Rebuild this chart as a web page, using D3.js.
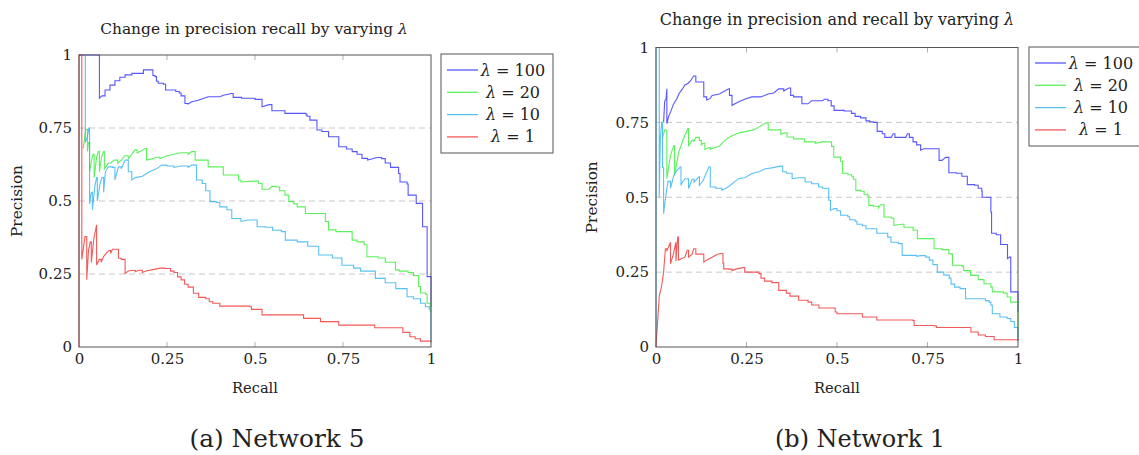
<!DOCTYPE html>
<html>
<head>
<meta charset="utf-8">
<script src="https://cdn.jsdelivr.net/npm/d3@7"></script>
<style>
  body { margin: 0; background: #fff; }
  svg { display: block; }
</style>
</head>
<body>
<svg id="chart" width="1139" height="455"></svg>
<script>
// ===== Precision / recall curves for different lambda values =====

const lambdas = ["100", "20", "10", "1"];
const yTicks = [0, 0.25, 0.5, 0.75, 1];
const xTicks = [0, 0.25, 0.5, 0.75, 1];
const gridTicks = [0.25, 0.5, 0.75];

// Network 5 : [recall, precision]
const net5_l100 = [[0,1],[0.058,1],[0.058,0.852],[0.065,0.86],[0.074,0.86],[0.074,0.88],[0.088,0.88],[0.088,0.897],[0.102,0.897],[0.102,0.912],[0.116,0.912],[0.116,0.924],[0.131,0.924],[0.131,0.932],[0.15,0.932],[0.15,0.937],[0.183,0.937],[0.183,0.949],[0.208,0.949],[0.21,0.93],[0.216,0.926],[0.22,0.91],[0.225,0.903],[0.24,0.9],[0.246,0.88],[0.273,0.88],[0.275,0.875],[0.285,0.87],[0.29,0.86],[0.301,0.834],[0.31,0.832],[0.32,0.84],[0.339,0.845],[0.367,0.857],[0.4,0.857],[0.41,0.862],[0.434,0.868],[0.438,0.855],[0.462,0.852],[0.49,0.852],[0.5,0.848],[0.515,0.848],[0.52,0.823],[0.54,0.83],[0.548,0.825],[0.548,0.809],[0.585,0.809],[0.585,0.8],[0.63,0.8],[0.645,0.795],[0.648,0.79],[0.656,0.777],[0.676,0.775],[0.676,0.743],[0.69,0.738],[0.709,0.72],[0.73,0.72],[0.738,0.686],[0.76,0.678],[0.776,0.669],[0.79,0.66],[0.804,0.646],[0.82,0.64],[0.847,0.649],[0.86,0.645],[0.87,0.63],[0.885,0.615],[0.908,0.594],[0.912,0.565],[0.932,0.558],[0.935,0.52],[0.955,0.52],[0.958,0.492],[0.97,0.492],[0.976,0.412],[0.986,0.412],[0.989,0.241],[0.998,0.241],[1,0.135]];
const net5_l20 = [[0.012,0.68],[0.019,0.745],[0.024,0.67],[0.027,0.7],[0.03,0.6],[0.036,0.64],[0.04,0.66],[0.043,0.58],[0.05,0.65],[0.055,0.67],[0.058,0.6],[0.064,0.65],[0.07,0.67],[0.072,0.61],[0.083,0.629],[0.09,0.63],[0.1,0.64],[0.11,0.63],[0.121,0.64],[0.13,0.655],[0.14,0.645],[0.15,0.66],[0.159,0.675],[0.165,0.665],[0.175,0.67],[0.1875,0.68],[0.192,0.64],[0.21,0.645],[0.22,0.65],[0.23,0.645],[0.25,0.655],[0.27,0.66],[0.29,0.665],[0.31,0.66],[0.32,0.669],[0.33,0.64],[0.35,0.64],[0.367,0.617],[0.39,0.617],[0.41,0.589],[0.44,0.589],[0.453,0.572],[0.46,0.565],[0.491,0.568],[0.51,0.56],[0.52,0.54],[0.54,0.54],[0.548,0.55],[0.56,0.548],[0.57,0.535],[0.585,0.52],[0.596,0.498],[0.61,0.49],[0.62,0.48],[0.643,0.457],[0.69,0.457],[0.7,0.43],[0.709,0.401],[0.73,0.395],[0.765,0.395],[0.776,0.366],[0.79,0.36],[0.81,0.35],[0.818,0.309],[0.85,0.305],[0.87,0.29],[0.899,0.264],[0.91,0.26],[0.935,0.255],[0.95,0.245],[0.965,0.207],[0.97,0.185],[0.985,0.18],[0.989,0.15],[0.998,0.121],[1,0.12]];
const net5_l10 = [[0.018,1],[0.018,0.7],[0.024,0.72],[0.028,0.75],[0.03,0.49],[0.035,0.53],[0.038,0.47],[0.045,0.55],[0.05,0.58],[0.052,0.5],[0.06,0.56],[0.065,0.58],[0.07,0.53],[0.075,0.6],[0.083,0.617],[0.095,0.615],[0.102,0.572],[0.112,0.617],[0.12,0.61],[0.131,0.64],[0.14,0.6],[0.15,0.572],[0.16,0.58],[0.18,0.585],[0.2,0.6],[0.22,0.61],[0.235,0.623],[0.25,0.62],[0.27,0.615],[0.29,0.62],[0.31,0.615],[0.32,0.623],[0.334,0.572],[0.35,0.56],[0.36,0.535],[0.372,0.498],[0.39,0.495],[0.4,0.48],[0.42,0.47],[0.434,0.44],[0.46,0.43],[0.48,0.435],[0.491,0.435],[0.506,0.412],[0.53,0.41],[0.55,0.4],[0.575,0.395],[0.586,0.366],[0.62,0.36],[0.65,0.345],[0.681,0.315],[0.72,0.305],[0.747,0.28],[0.78,0.27],[0.8,0.26],[0.842,0.235],[0.87,0.22],[0.9,0.2],[0.932,0.172],[0.95,0.165],[0.97,0.15],[0.984,0.138],[0.995,0.13],[1,0.02]];
const net5_l1 = [[0,0],[0,1],[0.008,1],[0.008,0.3],[0.017,0.378],[0.022,0.23],[0.027,0.33],[0.032,0.36],[0.035,0.29],[0.042,0.37],[0.05,0.418],[0.05,0.281],[0.058,0.3],[0.063,0.29],[0.07,0.31],[0.08,0.325],[0.085,0.33],[0.09,0.32],[0.095,0.335],[0.104,0.335],[0.112,0.304],[0.12,0.3],[0.131,0.252],[0.14,0.26],[0.15,0.262],[0.16,0.258],[0.17,0.263],[0.18,0.255],[0.19,0.26],[0.21,0.265],[0.23,0.27],[0.244,0.269],[0.26,0.26],[0.27,0.255],[0.28,0.24],[0.29,0.23],[0.3,0.215],[0.31,0.205],[0.325,0.184],[0.34,0.17],[0.36,0.165],[0.37,0.155],[0.38,0.15],[0.4,0.14],[0.486,0.138],[0.49,0.129],[0.51,0.129],[0.52,0.11],[0.638,0.11],[0.638,0.098],[0.686,0.098],[0.686,0.087],[0.738,0.087],[0.738,0.075],[0.84,0.075],[0.84,0.066],[0.91,0.066],[0.92,0.05],[0.94,0.035],[0.955,0.028],[0.97,0.02],[1,0.016]];

// Network 1 : [recall, precision]
const net1_l100 = [[0.021,0.75],[0.024,0.82],[0.028,0.83],[0.03,0.862],[0.03,0.746],[0.035,0.77],[0.042,0.79],[0.048,0.81],[0.058,0.83],[0.063,0.845],[0.072,0.86],[0.08,0.875],[0.088,0.88],[0.096,0.89],[0.104,0.905],[0.11,0.885],[0.125,0.885],[0.132,0.835],[0.14,0.825],[0.15,0.83],[0.155,0.84],[0.175,0.845],[0.19,0.855],[0.201,0.862],[0.203,0.84],[0.21,0.835],[0.21,0.807],[0.23,0.82],[0.25,0.83],[0.265,0.835],[0.29,0.835],[0.31,0.845],[0.325,0.848],[0.339,0.862],[0.353,0.855],[0.367,0.865],[0.372,0.84],[0.38,0.835],[0.4,0.835],[0.403,0.812],[0.42,0.812],[0.43,0.822],[0.46,0.822],[0.465,0.827],[0.475,0.822],[0.484,0.805],[0.492,0.79],[0.52,0.788],[0.54,0.78],[0.55,0.77],[0.565,0.765],[0.58,0.755],[0.59,0.752],[0.6,0.75],[0.611,0.72],[0.625,0.712],[0.632,0.7],[0.65,0.7],[0.655,0.712],[0.66,0.7],[0.69,0.7],[0.695,0.712],[0.7,0.7],[0.71,0.685],[0.72,0.675],[0.731,0.657],[0.74,0.662],[0.775,0.662],[0.782,0.623],[0.79,0.623],[0.8,0.633],[0.809,0.582],[0.83,0.58],[0.845,0.57],[0.86,0.57],[0.86,0.542],[0.88,0.54],[0.89,0.53],[0.9,0.52],[0.901,0.5],[0.91,0.5],[0.925,0.451],[0.927,0.38],[0.94,0.375],[0.952,0.342],[0.966,0.342],[0.971,0.295],[0.976,0.3],[0.98,0.184],[0.998,0.184],[1,0.117]];
const net1_l20 = [[0.017,0.696],[0.024,0.724],[0.03,0.562],[0.04,0.64],[0.049,0.673],[0.051,0.573],[0.063,0.651],[0.076,0.696],[0.088,0.729],[0.09,0.673],[0.1,0.69],[0.104,0.685],[0.11,0.7],[0.12,0.69],[0.125,0.675],[0.13,0.68],[0.135,0.66],[0.145,0.665],[0.15,0.66],[0.16,0.665],[0.175,0.67],[0.182,0.68],[0.195,0.695],[0.21,0.705],[0.23,0.715],[0.25,0.72],[0.27,0.725],[0.285,0.735],[0.302,0.748],[0.31,0.725],[0.33,0.725],[0.345,0.71],[0.355,0.715],[0.362,0.701],[0.38,0.695],[0.4,0.695],[0.41,0.685],[0.44,0.68],[0.46,0.685],[0.475,0.685],[0.485,0.67],[0.49,0.67],[0.491,0.634],[0.5,0.634],[0.51,0.62],[0.515,0.58],[0.53,0.575],[0.54,0.57],[0.545,0.56],[0.552,0.523],[0.565,0.52],[0.575,0.51],[0.585,0.505],[0.588,0.473],[0.6,0.47],[0.615,0.465],[0.62,0.475],[0.63,0.434],[0.65,0.43],[0.657,0.406],[0.68,0.41],[0.685,0.4],[0.7,0.4],[0.71,0.39],[0.722,0.362],[0.755,0.362],[0.768,0.328],[0.79,0.325],[0.809,0.311],[0.819,0.273],[0.845,0.27],[0.85,0.255],[0.869,0.239],[0.89,0.225],[0.906,0.211],[0.925,0.2],[0.929,0.184],[0.96,0.18],[0.97,0.167],[0.98,0.15],[1,0.14],[1,0.02]];
const net1_l10 = [[0,0],[0,1],[0.009,1],[0.009,0.5],[0.012,0.7],[0.016,0.75],[0.018,0.6],[0.021,0.445],[0.026,0.495],[0.033,0.553],[0.04,0.53],[0.049,0.573],[0.058,0.59],[0.067,0.601],[0.069,0.54],[0.075,0.555],[0.081,0.562],[0.09,0.529],[0.1,0.56],[0.105,0.55],[0.118,0.568],[0.12,0.54],[0.13,0.555],[0.146,0.601],[0.15,0.534],[0.165,0.53],[0.182,0.523],[0.2,0.535],[0.228,0.562],[0.245,0.565],[0.265,0.579],[0.285,0.585],[0.302,0.595],[0.32,0.598],[0.343,0.604],[0.35,0.585],[0.36,0.58],[0.376,0.562],[0.395,0.565],[0.412,0.551],[0.43,0.545],[0.449,0.534],[0.46,0.53],[0.477,0.49],[0.482,0.456],[0.492,0.462],[0.5,0.455],[0.51,0.44],[0.53,0.435],[0.535,0.425],[0.55,0.42],[0.555,0.41],[0.57,0.405],[0.58,0.395],[0.61,0.38],[0.64,0.367],[0.649,0.35],[0.67,0.345],[0.68,0.306],[0.72,0.303],[0.73,0.305],[0.745,0.3],[0.755,0.29],[0.765,0.275],[0.777,0.25],[0.795,0.24],[0.81,0.23],[0.815,0.21],[0.825,0.2],[0.84,0.195],[0.855,0.161],[0.9,0.161],[0.91,0.155],[0.92,0.15],[0.925,0.14],[0.929,0.111],[0.95,0.1],[0.97,0.095],[0.98,0.085],[0.99,0.065],[1,0.025]];
const net1_l1 = [[0,0],[0.009,0.17],[0.015,0.2],[0.021,0.25],[0.026,0.328],[0.03,0.32],[0.04,0.35],[0.04,0.278],[0.048,0.31],[0.055,0.35],[0.055,0.287],[0.06,0.367],[0.062,0.29],[0.07,0.295],[0.08,0.3],[0.086,0.323],[0.09,0.3],[0.1,0.31],[0.104,0.328],[0.11,0.31],[0.125,0.31],[0.132,0.284],[0.14,0.29],[0.155,0.3],[0.17,0.31],[0.18,0.312],[0.185,0.28],[0.187,0.261],[0.2,0.26],[0.21,0.255],[0.22,0.26],[0.24,0.265],[0.245,0.25],[0.26,0.25],[0.284,0.245],[0.29,0.23],[0.3,0.22],[0.32,0.215],[0.339,0.189],[0.36,0.18],[0.37,0.17],[0.394,0.156],[0.42,0.15],[0.43,0.14],[0.45,0.13],[0.495,0.117],[0.5,0.111],[0.565,0.111],[0.57,0.1],[0.605,0.1],[0.61,0.09],[0.71,0.088],[0.713,0.072],[0.77,0.07],[0.775,0.065],[0.86,0.065],[0.87,0.05],[0.89,0.04],[0.91,0.035],[0.934,0.024],[1,0.02]];

const colors = ['#3a3aff', '#3fef3f', '#3cb6ee', '#f23c3c'];
const serif = '"DejaVu Serif", "Liberation Serif", serif';

const svg = d3.select('#chart').style('font-family', serif);

// scale a text's font size so that it spans a given width
function fitWidth(sel, width) {
    const node = sel.node();
    const size = parseFloat(sel.attr('font-size'));
    const w = node.getComputedTextLength();
    if (w > 0) sel.attr('font-size', size * width / w);
}

// precision drops happen at fixed recall: draw them as horizontal + vertical
function stepLine(x, y) {
    return pts => {
        let d = '';
        pts.forEach((p, i) => {
            if (i === 0) { d += `M${x(p[0])},${y(p[1])}`; return; }
            const prev = pts[i - 1];
            if (p[1] < prev[1]) d += `L${x(p[0])},${y(prev[1])}`;
            d += `L${x(p[0])},${y(p[1])}`;
        });
        return d;
    };
}

function drawChart(opts) {
    const x = d3.scaleLinear().domain([0, 1]).range([opts.left, opts.right]);
    const y = d3.scaleLinear().domain([0, 1]).range([opts.bottom, opts.top]);
    const g = svg.append('g').style('font-family', serif);

    // dashed grid
    g.selectAll('line.grid').data(gridTicks).enter().append('line')
        .attr('x1', opts.left).attr('x2', opts.right)
        .attr('y1', d => y(d)).attr('y2', d => y(d))
        .attr('stroke', '#c8c8c8').attr('stroke-width', 1)
        .attr('stroke-dasharray', '6,4');

    // small inner ticks top/bottom
    [opts.top, opts.bottom].forEach((yy, i) => {
        g.selectAll(null).data(gridTicks).enter().append('line')
            .attr('x1', d => x(d)).attr('x2', d => x(d))
            .attr('y1', yy).attr('y2', i === 0 ? yy + 5 : yy - 5)
            .attr('stroke', '#b0b0b0').attr('stroke-width', 1);
    });

    // curves
    const line = stepLine(x, y);
    opts.series.forEach((s, i) => {
        g.append('path').datum(s)
            .attr('d', line)
            .attr('fill', 'none')
            .attr('stroke', colors[i])
            .attr('stroke-width', 1.1)
            .attr('stroke-opacity', 0.85);
    });

    // frame
    g.append('rect')
        .attr('x', opts.left).attr('y', opts.top)
        .attr('width', opts.right - opts.left).attr('height', opts.bottom - opts.top)
        .attr('fill', 'none').attr('stroke', '#555').attr('stroke-width', 1);

    // tick labels
    const fmt = d3.format('~g');
    const yAxis = d3.axisLeft(y).tickValues(yTicks).tickFormat(fmt).tickSize(0).tickPadding(7);
    const xAxis = d3.axisBottom(x).tickValues(xTicks).tickFormat(fmt).tickSize(0).tickPadding(6);
    const ya = g.append('g').attr('transform', `translate(${opts.left},0)`).call(yAxis);
    const xa = g.append('g').attr('transform', `translate(0,${opts.bottom})`).call(xAxis);
    [ya, xa].forEach(a => {
        a.attr('font-family', null).style('font-family', serif);
        a.select('.domain').remove();
        a.selectAll('text').attr('font-size', 15).attr('fill', '#222');
    });

    // title
    const title = g.append('text')
        .attr('x', opts.titleX).attr('y', opts.titleY)
        .attr('text-anchor', 'middle').attr('font-size', 16).attr('fill', '#222');
    title.append('tspan').text(opts.title + ' ');
    title.append('tspan').attr('font-style', 'italic').text('λ');
    fitWidth(title, opts.titleW);

    const yl = g.append('text')
        .attr('transform', `translate(${opts.ylabX},${(opts.top + opts.bottom) / 2}) rotate(-90)`)
        .attr('text-anchor', 'middle').attr('font-size', 17).attr('fill', '#222')
        .text('Precision');
    fitWidth(yl, 72);
    const xl = g.append('text')
        .attr('x', (opts.left + opts.right) / 2).attr('y', 393)
        .attr('text-anchor', 'middle').attr('font-size', 17).attr('fill', '#222')
        .text('Recall');
    fitWidth(xl, 46);

    // legend
    const lg = g.append('g').attr('transform', `translate(${opts.legX},${opts.legY})`);
    lg.append('rect').attr('width', 112).attr('height', 99)
        .attr('fill', '#fff').attr('stroke', '#555').attr('stroke-width', 1);
    lambdas.forEach((lam, i) => {
        const cy = 16 + i * 22.3;
        lg.append('line').attr('x1', 6).attr('x2', 37).attr('y1', cy).attr('y2', cy)
            .attr('stroke', colors[i]).attr('stroke-width', 1.3).attr('stroke-opacity', 0.85);
        const t = lg.append('text').attr('x', 72).attr('y', cy + 5.5)
            .attr('text-anchor', 'middle').attr('font-size', 16).attr('fill', '#222');
        t.append('tspan').attr('font-style', 'italic').text('λ');
        t.append('tspan').text(' = ' + lam);
    });

    const cap = g.append('text')
        .attr('x', opts.capX).attr('y', 447)
        .attr('text-anchor', 'middle').attr('font-size', 27).attr('fill', '#222')
        .text(opts.caption);
    fitWidth(cap, opts.capW);
}

drawChart({
    left: 79, right: 431, top: 55, bottom: 347,
    series: [net5_l100, net5_l20, net5_l10, net5_l1],
    title: 'Change in precision recall by varying',
    titleX: 254, titleY: 34, titleW: 308, ylabX: 22,
    legX: 441, legY: 54,
    caption: '(a) Network 5', capX: 277, capW: 175
});

drawChart({
    left: 656, right: 1018, top: 47.5, bottom: 347,
    series: [net1_l100, net1_l20, net1_l10, net1_l1],
    title: 'Change in precision and recall by varying',
    titleX: 837, titleY: 25, titleW: 355, ylabX: 597,
    legX: 1029, legY: 47,
    caption: '(b) Network 1', capX: 860, capW: 170
});
</script>
</body>
</html>
